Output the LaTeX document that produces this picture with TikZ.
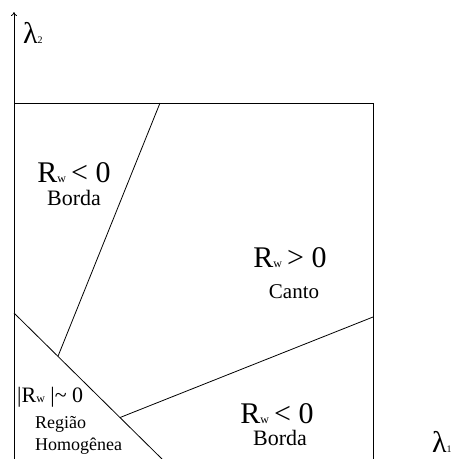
\documentclass[tikz,border=0pt]{standalone}
\usepackage{fontspec}
\setmainfont{Liberation Serif}
\usetikzlibrary{arrows.meta,calc}
\newcommand{\subw}{{\fontsize{12}{12}\selectfont w}}
\newcommand{\subidx}[1]{{\fontsize{10}{10}\selectfont #1}}
\tikzset{
  edge/.style={draw=black, line width=0.8pt},
  axis/.style={edge, -{To[length=4pt,width=6pt]}},
  signlabel/.style={anchor=base, inner sep=0pt, font=\fontsize{30}{32}\selectfont},
  namelabel/.style={anchor=base, inner sep=0pt, font=\fontsize{22}{24}\selectfont},
  smalllabel/.style={anchor=base west, inner sep=0pt, font=\fontsize{18}{20}\selectfont},
  axislabel/.style={anchor=base west, inner sep=0pt, font=\fontsize{30}{32}\selectfont}
}
\begin{document}
\begin{tikzpicture}[x=1pt,y=-1pt]
  \useasboundingbox (0,0) rectangle (457,459);
  % frame and axis
  \coordinate (origin) at (14,459);
  \coordinate (ytip) at (14,12);
  \coordinate (topleft) at (14,103);
  \coordinate (topright) at (373,103);
  \coordinate (botright) at (373,459);
  \draw[axis] (origin) -- (ytip);
  \draw[edge] (topleft) -- (topright) -- (botright);
  % region borders
  \coordinate (diagA) at (14,313);
  \coordinate (diagB) at (162,459);
  \coordinate (cutA) at (160,103);
  \coordinate (cutB) at ($(diagA)!0.297!(diagB)$);
  \coordinate (cutC) at ($(diagA)!0.716!(diagB)$);
  \coordinate (cutD) at (373,317);
  \draw[edge] (diagA) -- (diagB);
  \draw[edge] (cutA) -- (cutB);
  \draw[edge] (cutC) -- (cutD);
  % labels
  \node[signlabel] (edgesign) at (74,182) {R\subw\,<\ 0};
  \node[namelabel] (edgename) at (74,205) {Borda};
  \node[signlabel] (cornersign) at (290,267) {R\subw\,>\ 0};
  \node[namelabel, font=\fontsize{21}{22}\selectfont] (cornername) at (294,298) {Canto};
  \node[signlabel] (edgesignb) at (277,423) {R\subw\,<\ 0};
  \node[namelabel] (edgenameb) at (280,445) {Borda};
  \node[axislabel, font=\fontsize{22}{24}\selectfont] (flatsign) at (17,402) {|R\subw\ |\string~\ 0};
  \node[smalllabel] (flatname) at (35,428) {Região};
  \node[smalllabel] (flatnameb) at (35,450) {Homogênea};
  \node[axislabel] (lambdatwo) at (23,43) {λ\subidx{2}};
  \node[axislabel] (lambdaone) at (432,452) {λ\subidx{1}};
\end{tikzpicture}
\end{document}
